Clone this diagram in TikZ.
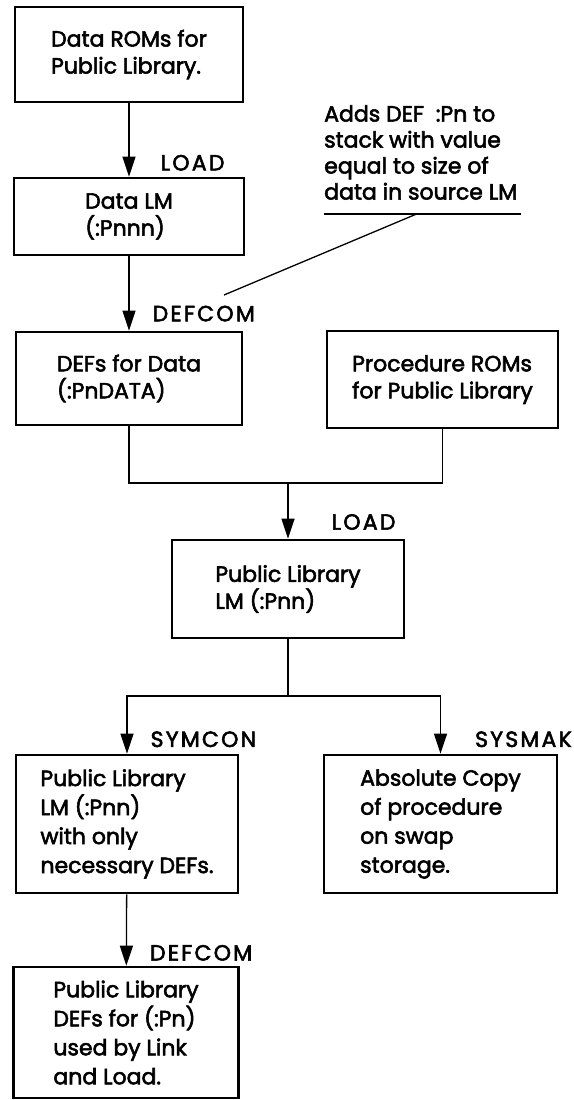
\documentclass[tikz,border=0pt]{standalone}
\usepackage{fontspec}
\setmainfont{Poppins}[FakeBold=2.5]
\newfontfamily\lblfont{Poppins}[FakeBold=2.5, LetterSpace=10]
\usetikzlibrary{arrows.meta, positioning, calc}

\tikzset{
  blk/.style={draw, line width=2.6pt, align=left, inner sep=0pt, font=\fontsize{22}{27}\selectfont},
  tall/.style={font=\fontsize{22}{29}\selectfont},
  lbl/.style={anchor=west, inner sep=0pt, font=\lblfont\fontsize{22}{24}\selectfont},
  flow/.style={line width=1.3pt},
  arr/.style={flow, -{Triangle[length=20pt, width=13pt]}},
}

\begin{document}
\begin{tikzpicture}[x=1pt, y=-1pt]
\useasboundingbox (0,0) rectangle (573,1100);
% --- Data path ---
\node[blk, minimum width=228pt, minimum height=95pt] (rom) at (129,54.5) {Data ROMs for\\Public Library.};
\node[blk, minimum width=230pt, minimum height=77pt] (dlm) at (129,216.5) {Data LM\\(:Pnnn)};
\node[blk, minimum width=226pt, minimum height=93pt] (defs) at (129,378.5) {DEFs for Data\\(:PnDATA)};
\node[blk, minimum width=231pt, minimum height=97pt] (proc) at (442.5,379.5) {Procedure ROMs\\for Public Library};
\draw[arr] (rom) -- (dlm) node[lbl, pos=0.81, xshift=31pt] (load1) {LOAD};
\draw[arr] (dlm) -- (defs) node[lbl, pos=0.77, xshift=23pt] (defcom1) {DEFCOM};
% --- Note on DEFCOM ---
\node[anchor=west, inner sep=0pt, align=left, font=\fontsize{22}{26}\selectfont] (note) at (324,152.5) {Adds DEF~ :Pn to\\stack with value\\equal to size of\\data in source LM};
\coordinate (ul) at (324,214);
\coordinate (ur) at (521,214);
\coordinate (tip) at (224,295);
\draw[flow] (ul) -- (ur);
\draw[flow] ($(ul)!0.47!(ur)$) -- (tip);
% --- Public library LM ---
\node[blk, minimum width=232pt, minimum height=98pt] (plm) at (288,589) {Public Library\\LM (:Pnn)};
\coordinate (join) at (288,483);
\draw[flow] (defs.south) |- (join) -| (proc.south);
\draw[arr] (join) -- (plm) node[lbl, pos=0.7, xshift=43pt] (load2) {LOAD};
% --- Outputs ---
\node[blk, tall, minimum width=222pt, minimum height=138pt] (sym) at (127,824) {Public Library\\LM (:Pnn)\\with only\\necessary DEFs.};
\node[blk, tall, minimum width=233pt, minimum height=138pt] (abs) at (440.5,824) {Absolute Copy\\of procedure\\on swap\\storage.};
\node[blk, tall, minimum width=225pt, minimum height=131pt] (dpn) at (126,1032.5) {Public Library\\DEFs for (:Pn)\\used by Link\\and Load.};
\coordinate (split) at (288,696);
\draw[flow] (plm) -- (split);
\draw[arr] (split) -| (sym.north) node[lbl, pos=0.875, xshift=23pt] (symcon) {SYMCON};
\draw[arr] (split) -| (abs.north) node[lbl, pos=0.875, xshift=34pt] (sysmak) {SYSMAK};
\draw[arr] (sym) -- (dpn) node[lbl, pos=0.82, xshift=23pt] (defcom2) {DEFCOM};
\end{tikzpicture}
\end{document}
